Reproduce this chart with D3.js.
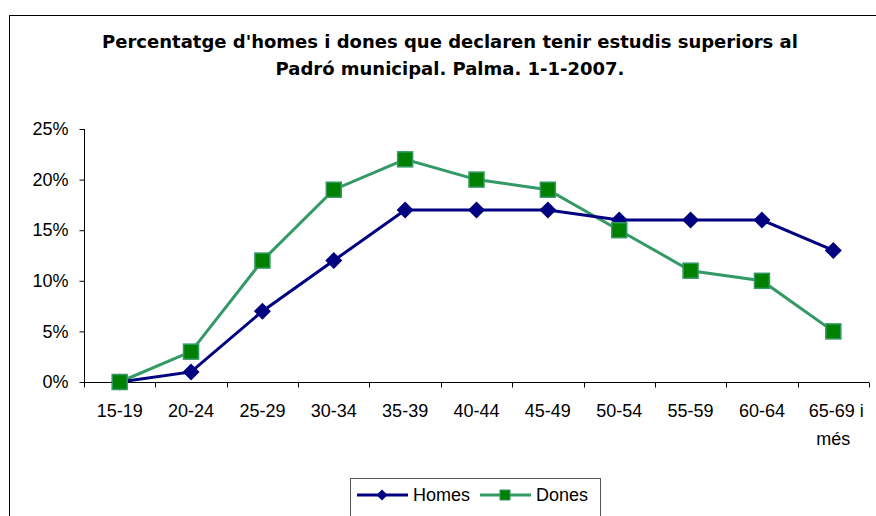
<!DOCTYPE html>
<html>
<head>
<meta charset="utf-8">
<script src="https://cdn.jsdelivr.net/npm/d3@7"></script>
<style>
  body { margin: 0; background: #fff; }
  svg { display: block; }
</style>
</head>
<body>
<svg width="876" height="516"></svg>
<script>
const categories = ["15-19", "20-24", "25-29", "30-34", "35-39", "40-44", "45-49", "50-54", "55-59", "60-64", "65-69 i més"];
const homes = [0, 1, 7, 12, 17, 17, 17, 16, 16, 16, 13];
const dones = [0, 3, 12, 19, 22, 20, 19, 15, 11, 10, 5];
const yTicks = [0, 5, 10, 15, 20, 25];

const svg = d3.select("svg");
const FONT = "Liberation Sans, Arial, sans-serif";
const diamond = r => `M0,${-r}L${r},0L0,${r}L${-r},0Z`;

// outer chart frame (runs off the right and bottom edges)
svg.append("rect")
  .attr("x", 9.5).attr("y", 15.5)
  .attr("width", 900).attr("height", 600)
  .attr("fill", "#fff").attr("stroke", "#000").attr("stroke-width", 1);

// title
const title = svg.append("text")
  .attr("text-anchor", "middle")
  .attr("font-family", "DejaVu Sans, Verdana, sans-serif")
  .attr("font-weight", "bold")
  .attr("font-size", 18)
  .attr("fill", "#000");
title.append("tspan").attr("x", 450).attr("y", 48)
  .text("Percentatge d'homes i dones que declaren tenir estudis superiors al");
title.append("tspan").attr("x", 450).attr("y", 75)
  .text("Padró municipal. Palma. 1-1-2007.");

const x = d3.scaleBand().domain(categories).range([84, 869]);
const y = d3.scaleLinear().domain([0, 25]).range([382, 129]);

// y axis
const yAxis = svg.append("g")
  .attr("transform", "translate(84.5,0)")
  .call(d3.axisLeft(y).tickValues(yTicks).tickSize(5).tickPadding(11).tickFormat(d => d + "%"));
yAxis.selectAll("text").attr("font-family", FONT).attr("font-size", 18).attr("fill", "#000");
yAxis.selectAll("line, path").attr("stroke", "#000");
yAxis.select(".domain").attr("d", `M0,${y(25)}V${y(0)}`);

// x axis
const xAxis = svg.append("g")
  .attr("transform", `translate(0,${y(0) + 0.5})`);
xAxis.append("line").attr("x1", 84).attr("x2", 869).attr("stroke", "#000");
xAxis.selectAll(".tk")
  .data(categories.map(c => x(c)).concat([869]))
  .join("line")
  .attr("x1", d => Math.round(d) + 0.5).attr("x2", d => Math.round(d) + 0.5)
  .attr("y1", 0).attr("y2", 5).attr("stroke", "#000");
xAxis.selectAll(".lbl")
  .data(categories)
  .join("text")
  .attr("text-anchor", "middle")
  .attr("font-family", FONT)
  .attr("font-size", 18)
  .attr("fill", "#000")
  .each(function (d) {
    const t = d3.select(this);
    const cx = x(d) + x.bandwidth() / 2;
    if (d === "65-69 i més") {
      t.append("tspan").attr("x", cx + 3).attr("y", 34).text("65-69 i");
      t.append("tspan").attr("x", cx).attr("y", 62).text("més");
    } else {
      t.append("tspan").attr("x", cx).attr("y", 34).text(d);
    }
  });

const cxOf = i => x(categories[i]) + x.bandwidth() / 2;
const line = d3.line().x((d, i) => cxOf(i)).y(d => y(d));

// Dones series
svg.append("path").datum(dones)
  .attr("d", line).attr("fill", "none")
  .attr("stroke", "#339966").attr("stroke-width", 3);

// Homes series
svg.append("path").datum(homes)
  .attr("d", line).attr("fill", "none")
  .attr("stroke", "#000080").attr("stroke-width", 3);

svg.selectAll(".diamond").data(homes).join("path")
  .attr("d", diamond(8.5))
  .attr("transform", (d, i) => `translate(${cxOf(i)},${y(d)})`)
  .attr("fill", "#000080");

svg.selectAll(".square").data(dones).join("rect")
  .attr("x", (d, i) => cxOf(i) - 7.5).attr("y", d => y(d) - 7.5)
  .attr("width", 15).attr("height", 15)
  .attr("fill", "#008000").attr("stroke", "#339966").attr("stroke-width", 1.5);

// legend
const lg = svg.append("g");
lg.append("rect").attr("x", 350.5).attr("y", 478.5).attr("width", 250).attr("height", 60)
  .attr("fill", "#fff").attr("stroke", "#555");
lg.append("line").attr("x1", 357).attr("x2", 408).attr("y1", 495).attr("y2", 495)
  .attr("stroke", "#000080").attr("stroke-width", 3);
lg.append("path").attr("d", diamond(5.5))
  .attr("transform", "translate(382,495)").attr("fill", "#000080");
lg.append("text").attr("x", 413).attr("y", 501).text("Homes");
lg.append("line").attr("x1", 480).attr("x2", 531).attr("y1", 495).attr("y2", 495)
  .attr("stroke", "#339966").attr("stroke-width", 3);
lg.append("rect").attr("x", 500).attr("y", 490).attr("width", 10).attr("height", 10)
  .attr("fill", "#008000").attr("stroke", "#339966");
lg.append("text").attr("x", 536).attr("y", 501).text("Dones");
lg.selectAll("text").attr("font-family", FONT).attr("font-size", 18).attr("fill", "#000");
</script>
</body>
</html>
